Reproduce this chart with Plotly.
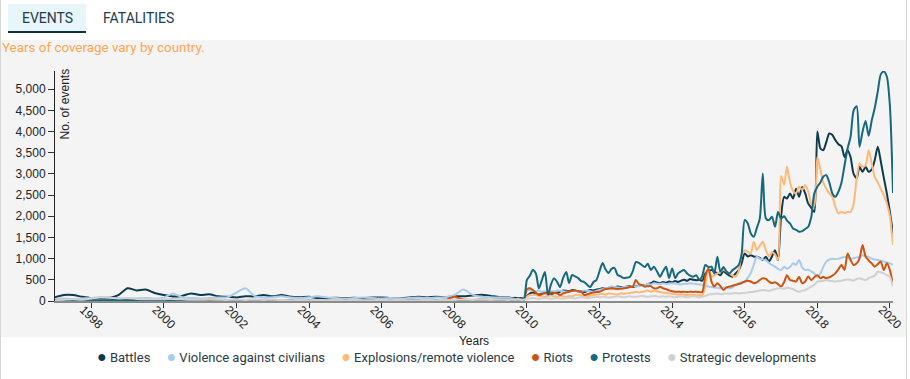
import pandas as pd
import plotly.graph_objects as go

# ---------------- DATA ----------------
# quarterly values 1997-Q1 .. 2009-Q2, then monthly 2009-07 .. 2020-02
early_dates = pd.date_range("1997-01-01", periods=50, freq="QS")
late_dates = pd.date_range("2009-07-01", periods=128, freq="MS")

battles_early = [90, 140, 140, 100, 70, 70, 75, 140, 300, 250, 270, 190,
                 140, 105, 120, 180, 140, 160, 110, 100, 85, 110, 110, 140,
                 110, 140, 100, 90, 100, 65, 70, 75, 70, 75, 70, 80,
                 85, 70, 60, 80, 100, 85, 100, 90, 110, 110, 130, 150, 120, 90]
battles_late = [80, 70, 75, 65, 70, 60,
                120, 180, 200, 180, 150, 180, 200, 170, 160, 190, 200, 220,
                250, 240, 230, 260, 250, 220, 230, 210, 240, 260, 250, 270,
                280, 300, 290, 310, 300, 320, 340, 330, 320, 340, 350, 330,
                350, 360, 380, 370, 400, 420, 460, 440, 420, 450, 430, 460,
                440, 470, 450, 480, 500, 480, 520, 500, 490, 500, 480, 650,
                700, 730, 700, 650, 610, 700, 650, 600, 574, 650, 730, 890,
                1124, 1050, 1080, 1050, 1045, 1020, 970, 1045, 930, 1050, 1200, 967,
                2000, 2460, 2420, 2539, 2420, 2650, 2460, 2690, 2539, 2300, 2200, 2100,
                4000, 3600, 3561, 3750, 3954, 3920, 3800, 3700, 3650, 3400, 3561, 3400,
                3000, 2900, 3168, 3050, 3168, 3050, 3100, 3325, 3640, 3300, 2900, 2540,
                2100, 1596]

violence_early = [50, 60, 50, 60, 70, 90, 80, 60, 50, 60, 70, 60,
                  80, 180, 90, 70, 60, 70, 80, 90, 200, 300, 120, 80,
                  90, 110, 80, 70, 90, 110, 80, 70, 60, 70, 80, 70,
                  60, 70, 60, 70, 80, 70, 80, 90, 140, 270, 150, 100, 90, 80]
violence_late = [70, 60, 50, 45, 40, 35,
                 250, 260, 240, 230, 250, 220, 230, 240, 220, 230, 250, 240,
                 230, 220, 210, 230, 240, 220, 230, 250, 240, 230, 220, 240,
                 260, 280, 300, 320, 340, 330, 320, 310, 330, 340, 330, 350,
                 340, 360, 380, 370, 400, 390, 420, 410, 400, 420, 400, 410,
                 420, 410, 400, 390, 410, 400, 420, 410, 400, 390, 380, 360,
                 340, 330, 320, 310, 300, 320, 310, 300, 320, 380, 420, 450,
                 450, 550, 652, 850, 1045, 1000, 980, 967, 900, 850, 810, 760,
                 730, 810, 760, 800, 890, 850, 967, 800, 730, 740, 700, 652,
                 570, 652, 800, 930, 980, 1000, 990, 1000, 1020, 1040, 1020, 1000,
                 1010, 1030, 1040, 1080, 1060, 1040, 1000, 980, 967, 950, 930, 910,
                 890, 850]

explosions_early = [10, 15, 10, 20, 15, 20, 25, 20, 15, 20, 25, 20,
                    20, 25, 30, 20, 25, 50, 30, 25, 20, 25, 30, 20,
                    25, 20, 30, 25, 20, 25, 20, 30, 25, 20, 25, 30,
                    20, 25, 30, 25, 30, 25, 20, 30, 30, 40, 30, 35, 30, 35]
explosions_late = [30, 35, 30, 35, 30, 40,
                   100, 140, 150, 140, 120, 110, 100, 120, 130, 110, 100, 120,
                   110, 100, 120, 110, 140, 150, 130, 120, 110, 130, 140, 150,
                   160, 170, 150, 180, 170, 160, 150, 180, 170, 180, 190, 200,
                   220, 200, 210, 230, 250, 220, 240, 230, 210, 200, 190, 180,
                   170, 160, 150, 160, 150, 140, 150, 140, 150, 140, 130, 350,
                   731, 574, 600, 650, 700, 731, 700, 650, 600, 574, 700, 1100,
                   1200, 1160, 1120, 1400, 1200, 1300, 1400, 1200, 1050, 1150, 1100, 980,
                   2950, 2750, 3168, 2800, 2600, 2540, 2697, 2620, 2740, 2580, 2300, 2250,
                   3400, 3100, 2800, 2650, 2540, 2460, 2225, 2068, 2100, 2080, 2100, 2100,
                   2300, 2900, 3247, 3168, 3200, 3561, 3250, 2932, 2800, 2650, 2500, 2300,
                   2000, 1320]

riots_early = [5, 5, 8, 5, 5, 10, 5, 8, 5, 8, 5, 10,
               8, 10, 5, 8, 10, 30, 15, 10, 8, 10, 5, 8,
               10, 8, 10, 12, 10, 15, 10, 12, 10, 12, 15, 10,
               12, 10, 15, 12, 10, 15, 12, 15, 100, 30, 15, 12, 15, 12]
riots_late = [15, 12, 15, 12, 15, 20,
              280, 300, 260, 200, 141, 160, 181, 190, 200, 190, 181, 141,
              180, 200, 220, 240, 250, 235, 220, 141, 160, 181, 200, 210,
              220, 250, 283, 290, 300, 290, 283, 290, 300, 310, 330, 338,
              495, 400, 376, 338, 350, 350, 300, 300, 338, 300, 280, 250,
              230, 220, 220, 215, 220, 210, 220, 215, 220, 210, 215, 600,
              770, 460, 340, 420, 350, 260, 320, 340, 360, 380, 400, 420,
              460, 480, 460, 420, 440, 495, 535, 520, 460, 420, 440, 400,
              340, 450, 610, 495, 480, 460, 570, 420, 460, 580, 495, 560,
              610, 535, 570, 535, 560, 600, 652, 750, 850, 730, 1124, 967,
              850, 890, 1000, 1320, 1050, 960, 890, 810, 870, 930, 730, 890,
              730, 380]

protests_early = [15, 20, 15, 20, 20, 15, 20, 25, 20, 25, 20, 15,
                  20, 15, 20, 25, 20, 25, 20, 15, 20, 25, 20, 25,
                  20, 15, 25, 20, 25, 20, 15, 20, 20, 25, 20, 15,
                  20, 15, 20, 25, 20, 25, 20, 25, 25, 20, 25, 30, 25, 30]
protests_late = [30, 25, 30, 25, 30, 40,
                 500, 600, 731, 650, 300, 500, 684, 150, 400, 540, 450, 330,
                 550, 684, 424, 613, 580, 540, 470, 448, 380, 330, 450, 495,
                 700, 896, 750, 660, 760, 778, 613, 580, 540, 550, 566, 700,
                 920, 900, 850, 800, 880, 731, 810, 700, 574, 700, 810, 540,
                 770, 540, 650, 700, 731, 650, 600, 574, 610, 495, 600, 850,
                 800, 810, 650, 1045, 690, 800, 700, 650, 731, 780, 850, 1100,
                 1910, 1832, 1600, 1517, 1714, 1950, 3011, 1950, 1910, 1990, 1753, 2100,
                 1950, 2000, 1900, 1830, 1714, 1680, 1636, 1650, 1700, 1753, 1990, 2539,
                 2700, 2800, 2932, 2970, 2800, 2539, 2460, 2580, 2800, 3200, 3600, 3876,
                 4500, 4600, 3640, 4000, 4250, 3900, 4250, 4550, 4950, 5350, 5420, 5300,
                 4600, 2550]

strategic_early = [20, 30, 40, 30, 60, 90, 80, 60, 70, 50, 40, 40,
                   40, 50, 40, 30, 30, 35, 30, 25, 30, 25, 30, 25,
                   30, 25, 20, 25, 20, 25, 20, 25, 20, 25, 20, 20,
                   25, 20, 25, 20, 20, 25, 20, 25, 25, 30, 25, 30, 25, 30]
strategic_late = [25, 30, 25, 30, 25, 30,
                  50, 60, 70, 60, 50, 60, 70, 60, 50, 60, 70, 60,
                  60, 70, 80, 70, 60, 80, 90, 80, 70, 80, 90, 100,
                  90, 100, 90, 80, 90, 100, 110, 100, 90, 100, 110, 100,
                  100, 110, 120, 110, 100, 110, 120, 110, 100, 110, 100, 110,
                  100, 90, 100, 110, 100, 90, 100, 110, 100, 90, 100, 120,
                  150, 160, 170, 180, 160, 170, 180, 170, 180, 190, 180, 190,
                  190, 200, 210, 220, 230, 250, 260, 250, 240, 260, 280, 300,
                  300, 290, 310, 300, 280, 240, 220, 240, 260, 300, 340, 380,
                  460, 470, 480, 495, 480, 470, 460, 470, 480, 495, 510, 500,
                  480, 520, 535, 510, 495, 540, 570, 600, 690, 680, 652, 610,
                  570, 340]

series_names = ["Battles", "Violence against civilians", "Explosions/remote violence",
                "Riots", "Protests", "Strategic developments"]
series_early = [battles_early, violence_early, explosions_early,
                riots_early, protests_early, strategic_early]
series_late = [battles_late, violence_late, explosions_late,
               riots_late, protests_late, strategic_late]
colors = ["#0f3a4c", "#a8cbee", "#ffb877", "#cc5410", "#16687e", "#d0d0d0"]

tab_labels = ["EVENTS", "FATALITIES"]
note_text = "Years of coverage vary by country."
y_title = "No. of events"
x_title = "Years"

# ---------------- LAYOUT GEOMETRY ----------------
W, H = 910, 379
L, R, T, B = 55, 893, 71, 301


def px_x(px):
    return (px - L) / (R - L)


def px_y(py):
    return (B - py) / (B - T)


x_all = list(early_dates) + list(late_dates)

fig = go.Figure()
for name, e, l, c in zip(series_names, series_early, series_late, colors):
    fig.add_trace(go.Scatter(
        x=x_all, y=list(e) + list(l), mode="lines", name=name,
        line=dict(color=c, width=2, shape="spline", smoothing=0.7),
        showlegend=False, hoverinfo="skip"))

# legend rendered as a single line of text with coloured bullets
gap = "&nbsp;" * 5
legend_text = gap.join(
    f"<span style='color:{c};font-size:16px'>●</span>&nbsp;{n}"
    for n, c in zip(series_names, colors))

shapes = [
    dict(type="rect", xref="paper", yref="paper", layer="below",
         x0=px_x(0), x1=px_x(906), y0=px_y(337), y1=px_y(40),
         fillcolor="#f4f4f4", line=dict(width=0)),
    dict(type="line", xref="paper", yref="paper",
         x0=px_x(0.5), x1=px_x(0.5), y0=px_y(0), y1=px_y(379),
         line=dict(color="#d6d6d6", width=1)),
    dict(type="line", xref="paper", yref="paper",
         x0=px_x(906.5), x1=px_x(906.5), y0=px_y(0), y1=px_y(379),
         line=dict(color="#d6d6d6", width=1)),
    dict(type="rect", xref="paper", yref="paper", layer="below",
         x0=px_x(8), x1=px_x(86), y0=px_y(31), y1=px_y(4),
         fillcolor="#e8f6fb", line=dict(width=0)),
    dict(type="rect", xref="paper", yref="paper",
         x0=px_x(8), x1=px_x(86), y0=px_y(33), y1=px_y(31),
         fillcolor="#10303e", line=dict(width=0)),
]

annotations = [
    dict(text=tab_labels[0], x=px_x(47), y=px_y(18), xref="paper", yref="paper",
         showarrow=False, xanchor="center", yanchor="middle",
         font=dict(family="Roboto", size=14, color="#1d3d4d")),
    dict(text=tab_labels[1], x=px_x(138), y=px_y(18), xref="paper", yref="paper",
         showarrow=False, xanchor="center", yanchor="middle",
         font=dict(family="Roboto", size=14, color="#1d3d4d")),
    dict(text=note_text, x=px_x(0), y=px_y(48), xref="paper", yref="paper",
         showarrow=False, xanchor="left", yanchor="middle",
         font=dict(family="Roboto", size=13.4, color="#ffa64f")),
    dict(text=y_title, x=px_x(55), y=px_y(67), xref="paper", yref="paper",
         showarrow=False, xanchor="left", yanchor="top", textangle=-90,
         font=dict(family="Liberation Sans, Arial", size=12, color="#222")),
    dict(text=legend_text, x=px_x(457), y=px_y(356), xref="paper", yref="paper",
         showarrow=False, xanchor="center", yanchor="middle",
         font=dict(family="Roboto", size=13, color="#2a3b45")),
]

fig.update_layout(
    width=W, height=H,
    margin=dict(l=L, r=W - R, t=T, b=H - B, pad=0),
    paper_bgcolor="white", plot_bgcolor="rgba(0,0,0,0)",
    shapes=shapes, annotations=annotations,
    showlegend=False,
    font=dict(family="Liberation Sans, Arial", size=12, color="#222"),
    hovermode=False,
)
fig.update_xaxes(
    type="date", range=["1997-01-01", "2020-02-01"],
    tickformat="%Y", dtick="M24", tick0="1998-01-01", tickangle=45,
    ticks="outside", ticklen=5, tickcolor="#333",
    ticklabelshift=-8, ticklabelstandoff=-10,
    showline=True, linecolor="#8a8a8a", linewidth=2,
    showgrid=False, zeroline=False,
    title=dict(text=x_title, standoff=6,
               font=dict(family="Liberation Sans, Arial", size=12, color="#222")),
    automargin=False,
    tickfont=dict(family="Liberation Sans, Arial", size=12, color="#222"),
)
fig.update_yaxes(
    range=[0, 5430], dtick=500, tickformat=",d",
    ticks="outside", ticklen=6, tickcolor="#333",
    showline=True, linecolor="#222", linewidth=1,
    showgrid=False, zeroline=False,
    tickfont=dict(family="Liberation Sans, Arial", size=12, color="#222"),
)

fig.write_html("out.html", config={"displayModeBar": False},
               post_script="document.body.style.margin='0px';")
